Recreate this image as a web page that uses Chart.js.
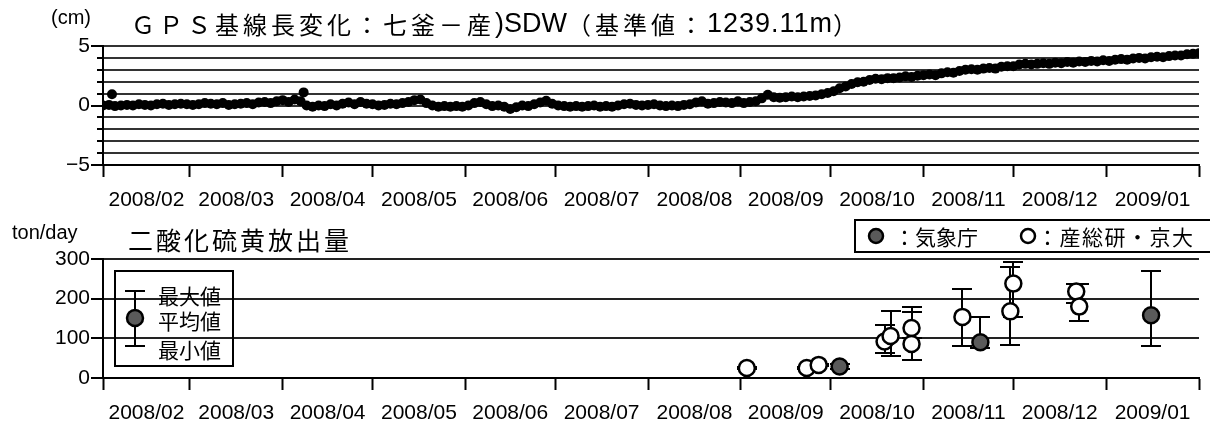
<!DOCTYPE html>
<html>
<head>
<meta charset="utf-8">
<script src="https://cdn.jsdelivr.net/npm/chart.js@4.4.1/dist/chart.umd.min.js"></script>
<style>
  html, body { margin: 0; padding: 0; background: #fff; }
  #wrap { position: relative; width: 1210px; height: 425px; }
  #gpsChart { position: absolute; left: 0; top: 0; }
  #so2Chart { position: absolute; left: 0; top: 210px; }
</style>
</head>
<body>
<div id="wrap">
  <canvas id="gpsChart" width="1210" height="210"></canvas>
  <canvas id="so2Chart" width="1210" height="215"></canvas>
</div>
<script>
// month labels on the x axis (each label sits in the middle of its month)
const monthLabels = ['2008/02', '2008/03', '2008/04', '2008/05', '2008/06', '2008/07',
                     '2008/08', '2008/09', '2008/10', '2008/11', '2008/12', '2009/01'];
const axisEndDate = '2009/02/01';

// GPS baseline change (cm), one reading every 2 days from 2008/02/01
const gpsStartDate = '2008/02/01';
const gpsStepDays = 2;
const gpsValues = [
  0.0, 0.05, -0.05, 0.0, 0.05, 0.0, 0.1, 0.05, 0.0, 0.1, 0.15, 0.05, 0.1, 0.15, 0.1,
  0.05, 0.1, 0.2, 0.15, 0.1, 0.2, 0.05, 0.1, 0.15, 0.2, 0.1, 0.25, 0.3, 0.2, 0.35,
  0.45, 0.3, 0.5, 0.35, 0.0, -0.1, 0.0, -0.05, 0.1, 0.0, 0.15, 0.25, 0.1, 0.3, 0.15,
  0.1, 0.0, 0.05, 0.15, 0.1, 0.2, 0.3, 0.45, 0.5, 0.2, 0.0, -0.1, -0.05, -0.1, -0.05, -0.1,
  0.0, 0.2, 0.3, 0.1, -0.05, 0.0, -0.1, -0.3, -0.15, 0.0, -0.05, 0.1, 0.25, 0.4, 0.15,
  0.0, -0.05, -0.1, -0.05, -0.1, -0.05, 0.0, -0.1, -0.05, -0.1, 0.0, 0.1, 0.15, 0.05, 0.0, 0.05,
  0.1, 0.0, -0.05, 0.0, -0.05, 0.05, 0.1, 0.25, 0.35, 0.15, 0.2, 0.3, 0.25, 0.2, 0.35,
  0.2, 0.3, 0.35, 0.6, 0.9, 0.7, 0.65, 0.7, 0.75, 0.7, 0.75, 0.8, 0.85, 0.95, 1.05,
  1.2, 1.45, 1.6, 1.8, 1.95, 2.0, 2.15, 2.25, 2.2, 2.3, 2.3, 2.35, 2.45, 2.4, 2.5,
  2.55, 2.6, 2.55, 2.7, 2.8, 2.75, 2.9, 3.0, 3.05, 3.0, 3.1, 3.15, 3.1, 3.25, 3.3, 3.3,
  3.45, 3.5, 3.45, 3.5, 3.55, 3.5, 3.6, 3.55, 3.65, 3.6, 3.7, 3.65, 3.75, 3.7, 3.8,
  3.75, 3.85, 3.9, 3.85, 3.95, 4.0, 3.95, 4.05, 4.1, 4.05, 4.15, 4.2, 4.2, 4.3, 4.35, 4.4
];
// isolated readings above the main trace
const gpsExtraDates = ['2008/02/04', '2008/04/08'];
const gpsExtraValues = [0.95, 1.1];
const gpsTicks = [-5, -4, -3, -2, -1, 0, 1, 2, 3, 4, 5];
const gpsMajorTicks = [-5, 0, 5];

// SO2 emission (ton/day)
const jmaDates = ['2008/10/04', '2008/11/20', '2009/01/16'];
const jmaMean = [29, 90, 158];
const jmaMax = [35, 154, 270];
const jmaMin = [22, 75, 81];

const aistDates = ['2008/09/03', '2008/09/23', '2008/09/27', '2008/10/19', '2008/10/21', '2008/10/28',
                   '2008/10/28', '2008/11/14', '2008/11/30', '2008/12/01', '2008/12/22', '2008/12/23'];
const aistMean = [25, 25, 33, 92, 106, 126, 86, 154, 168, 238, 218, 180];
const aistMax = [28, 28, 36, 134, 168, 178, 166, 224, 280, 292, 237, 237];
const aistMin = [22, 22, 30, 63, 55, 100, 46, 81, 84, 155, 190, 143];
const so2Ticks = [0, 100, 200, 300];

const FONT = '"Liberation Sans", "Noto Sans CJK JP", sans-serif';
const JP = '"Noto Sans CJK JP", sans-serif';
Chart.defaults.font.family = FONT;
Chart.defaults.color = '#000';

function dayOf(s) {
  const [y, m, d] = s.split('/').map(Number);
  return Math.round((Date.UTC(y, m - 1, d) - Date.UTC(2008, 1, 1)) / 86400000);
}

const monthStarts = monthLabels.map(l => dayOf(l + '/01')).concat([dayOf(axisEndDate)]);
const monthMids = monthLabels.map((l, i) => (monthStarts[i] + monthStarts[i + 1]) / 2);
const xTickValues = monthStarts.concat(monthMids).sort((a, b) => a - b);

function xAxis(height) {
  return {
    type: 'linear',
    min: monthStarts[0],
    max: monthStarts[monthStarts.length - 1],
    afterBuildTicks: (scale) => { scale.ticks = xTickValues.map(v => ({ value: v })); },
    afterFit: (scale) => { scale.height = height; },
    ticks: {
      autoSkip: false, maxRotation: 0, minRotation: 0, padding: 11,
      font: { size: 21 },
      callback: (v) => {
        const i = monthMids.indexOf(v);
        return i >= 0 ? monthLabels[i] : '';
      }
    },
    grid: {
      drawOnChartArea: false, drawTicks: true, tickLength: 12, tickWidth: 2,
      tickColor: (c) => monthStarts.includes(c.tick.value) ? '#000' : 'rgba(0,0,0,0)'
    },
    border: { display: true, color: '#000', width: 2 }
  };
}

// draws a run of [text, font, size, spacing] pieces one after another
function drawPieces(ctx, pieces, x, y) {
  ctx.save();
  ctx.fillStyle = '#000';
  ctx.textBaseline = 'middle';
  ctx.textAlign = 'left';
  pieces.forEach(([text, family, size, spacing]) => {
    ctx.font = size + 'px ' + family;
    ctx.letterSpacing = spacing + 'px';
    ctx.fillText(text, x, y);
    x += ctx.measureText(text).width;
  });
  ctx.restore();
}

function drawText(ctx, text, x, y, size, family, spacing) {
  drawPieces(ctx, [[text, family, size, spacing || 0]], x, y);
}

const gpsDecor = {
  id: 'gpsDecor',
  afterDraw(chart) {
    const { ctx, scales: { y } } = chart;
    ctx.save();
    ctx.strokeStyle = '#000';
    ctx.lineWidth = 2;
    gpsTicks.filter(v => !gpsMajorTicks.includes(v)).forEach(v => {
      const py = Math.round(y.getPixelForValue(v));
      ctx.beginPath();
      ctx.moveTo(y.right - 6, py);
      ctx.lineTo(y.right, py);
      ctx.stroke();
    });
    ctx.restore();
    drawText(ctx, '(cm)', 51, 18, 20, FONT, 0);
    drawPieces(ctx, [
      ['ＧＰＳ基線長変化：七釜－産', JP, 24, 4],
      [')SDW', FONT, 27, 0],
      ['（基準値：', JP, 24, 4],
      ['1239.11m', FONT, 27, 1],
      ['）', JP, 24, 0]
    ], 131, 25);
  }
};

new Chart(document.getElementById('gpsChart'), {
  type: 'scatter',
  data: {
    datasets: [{
      data: gpsValues.map((v, i) => ({ x: dayOf(gpsStartDate) + i * gpsStepDays, y: v })),
      pointRadius: 5, pointBorderWidth: 0, backgroundColor: '#000', borderColor: '#000'
    }, {
      data: gpsExtraValues.map((v, i) => ({ x: dayOf(gpsExtraDates[i]), y: v })),
      pointRadius: 5, pointBorderWidth: 0, backgroundColor: '#000', borderColor: '#000'
    }]
  },
  options: {
    responsive: false, animation: false, devicePixelRatio: 1,
    layout: { padding: { top: 46, left: 0, right: 0, bottom: 0 } },
    plugins: { legend: { display: false }, tooltip: { enabled: false } },
    scales: {
      x: xAxis(45),
      y: {
        min: -5, max: 5,
        afterFit: (scale) => { scale.width = 103; },
        afterBuildTicks: (scale) => { scale.ticks = gpsTicks.map(v => ({ value: v })); },
        ticks: {
          autoSkip: false, padding: 1, font: { size: 21 },
          callback: (v) => gpsMajorTicks.includes(v) ? String(v).replace('-', '−') : ''
        },
        grid: {
          color: '#333', lineWidth: 2, tickLength: 12, tickWidth: 2,
          tickColor: (c) => gpsMajorTicks.includes(c.tick.value) ? '#000' : 'rgba(0,0,0,0)'
        },
        border: { display: true, color: '#000', width: 2 }
      }
    }
  },
  plugins: [gpsDecor]
});

const errorBars = {
  id: 'errorBars',
  beforeDatasetsDraw(chart) {
    const { ctx, scales: { x, y } } = chart;
    ctx.save();
    ctx.strokeStyle = '#000';
    ctx.lineWidth = 2;
    chart.data.datasets.forEach(ds => {
      ds.data.forEach((p, i) => {
        const px = Math.round(x.getPixelForValue(p.x));
        const top = Math.round(y.getPixelForValue(ds.errMax[i]));
        const bot = Math.round(y.getPixelForValue(ds.errMin[i]));
        ctx.beginPath();
        ctx.moveTo(px, top); ctx.lineTo(px, bot);
        ctx.moveTo(px - 10, top); ctx.lineTo(px + 10, top);
        ctx.moveTo(px - 10, bot); ctx.lineTo(px + 10, bot);
        ctx.stroke();
      });
    });
    ctx.restore();
  }
};

function circle(ctx, x, y, r, fill) {
  ctx.beginPath();
  ctx.arc(x, y, r, 0, Math.PI * 2);
  ctx.fillStyle = fill;
  ctx.fill();
  ctx.lineWidth = 2.5;
  ctx.strokeStyle = '#000';
  ctx.stroke();
}

const so2Decor = {
  id: 'so2Decor',
  afterDraw(chart) {
    const ctx = chart.ctx;
    drawText(ctx, 'ton/day', 12, 23, 20, FONT, 0);
    drawText(ctx, '二酸化硫黄放出量', 128, 30, 25, JP, 3);

    // source legend (top right)
    ctx.save();
    ctx.lineWidth = 2;
    ctx.strokeStyle = '#000';
    ctx.strokeRect(855, 10, 360, 32);
    circle(ctx, 876, 26, 7, '#5a5a5a');
    circle(ctx, 1028, 26, 7, '#fff');
    ctx.restore();
    drawText(ctx, '：気象庁', 894, 27, 21, JP, 0);
    drawText(ctx, '：産総研・京大', 1037, 27, 21, JP, 1.5);

    // symbol legend (left)
    ctx.save();
    ctx.lineWidth = 2;
    ctx.strokeStyle = '#000';
    ctx.strokeRect(115, 61, 118, 95);
    ctx.beginPath();
    ctx.moveTo(135, 81); ctx.lineTo(135, 136);
    ctx.moveTo(125, 81); ctx.lineTo(145, 81);
    ctx.moveTo(125, 136); ctx.lineTo(145, 136);
    ctx.stroke();
    circle(ctx, 135, 108, 8, '#5a5a5a');
    ctx.restore();
    drawText(ctx, '最大値', 158, 86, 21, JP, 0);
    drawText(ctx, '平均値', 158, 111, 21, JP, 0);
    drawText(ctx, '最小値', 158, 140, 21, JP, 0);
  }
};

new Chart(document.getElementById('so2Chart'), {
  type: 'scatter',
  data: {
    datasets: [{
      label: '気象庁',
      data: jmaMean.map((v, i) => ({ x: dayOf(jmaDates[i]), y: v })),
      errMax: jmaMax, errMin: jmaMin,
      pointRadius: 8, pointBorderWidth: 2.5, backgroundColor: '#5a5a5a', borderColor: '#000'
    }, {
      label: '産総研・京大',
      data: aistMean.map((v, i) => ({ x: dayOf(aistDates[i]), y: v })),
      errMax: aistMax, errMin: aistMin,
      pointRadius: 8, pointBorderWidth: 2.5, backgroundColor: '#fff', borderColor: '#000'
    }]
  },
  options: {
    responsive: false, animation: false, devicePixelRatio: 1,
    layout: { padding: { top: 49, left: 0, right: 0, bottom: 0 } },
    plugins: { legend: { display: false }, tooltip: { enabled: false } },
    scales: {
      x: xAxis(47),
      y: {
        min: 0, max: 300,
        afterFit: (scale) => { scale.width = 103; },
        afterBuildTicks: (scale) => { scale.ticks = so2Ticks.map(v => ({ value: v })); },
        ticks: { autoSkip: false, padding: 1, font: { size: 21 } },
        grid: { color: '#222', lineWidth: 2, tickLength: 12, tickWidth: 2, tickColor: '#000' },
        border: { display: true, color: '#000', width: 2 }
      }
    }
  },
  plugins: [errorBars, so2Decor]
});
</script>
</body>
</html>
